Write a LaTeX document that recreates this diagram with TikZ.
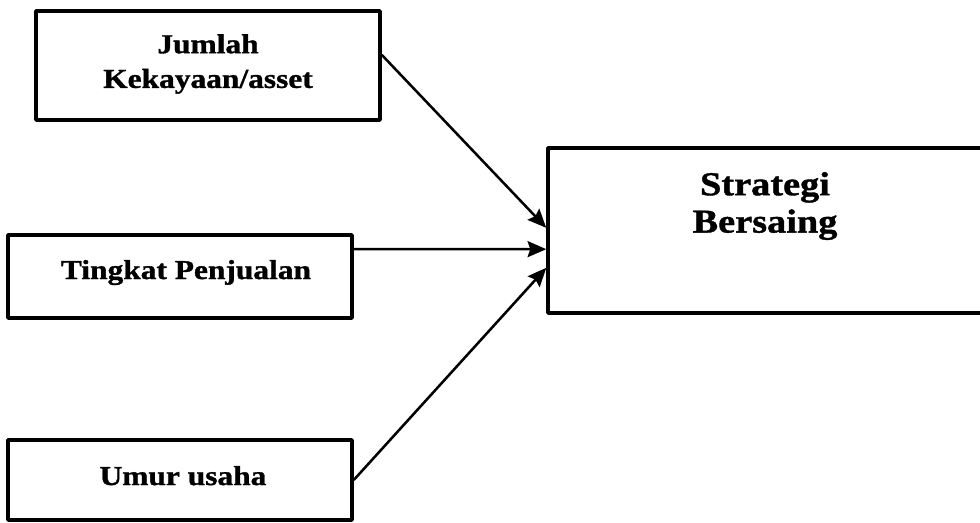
\documentclass[tikz,border=0pt]{standalone}
\usepackage{fontspec}
\setmainfont{Liberation Serif}[FakeStretch=1.15, FakeBold=1.2]
\usetikzlibrary{arrows.meta}

\begin{document}
\begin{tikzpicture}[x=0.75pt, y=-0.75pt, line join=round, >={Stealth[length=14pt,width=12pt,inset=2pt]},
		box/.style={draw, line width=2.6pt, inner sep=0pt},
		lbl/.style={font=\fontsize{20.5}{26}\selectfont\bfseries, align=center, inner sep=0pt},
		biglbl/.style={font=\fontsize{25}{28}\selectfont\bfseries, align=center, inner sep=0pt},
		link/.style={->, line width=1.9pt}
		]
		\useasboundingbox (0,0) rectangle (980,522);
		% kotak
		\node[box, minimum width=258pt, minimum height=81.75pt] (asset) at (208,65.5) {};
		\node[box, minimum width=258pt, minimum height=62.25pt] (jual) at (180,276.5) {};
		\node[box, minimum width=258pt, minimum height=60pt] (umur) at (180,480) {};
		\node[box, minimum width=331.5pt, minimum height=123.75pt] (strat) at (769,230.5) {};
		% teks
		\node[lbl] (assettxt) at (208,64) {Jumlah\\Kekayaan/asset};
		\node[lbl, anchor=base] (jualtxt) at (186,279) {Tingkat Penjualan};
		\node[lbl, anchor=base] (umurtxt) at (183,485) {Umur usaha};
		\node[biglbl] (strattxt) at (765,206) {Strategi\\Bersaing};
		% panah
		\draw[link] ([yshift=8pt]asset.east) -- ([yshift=2pt]strat.west);
		\draw[link] ([yshift=20.6pt]jual.east) -- ([yshift=-14pt]strat.west);
		\draw[link] (umur.east) -- ([yshift=-28pt]strat.west);
\end{tikzpicture}
\end{document}
